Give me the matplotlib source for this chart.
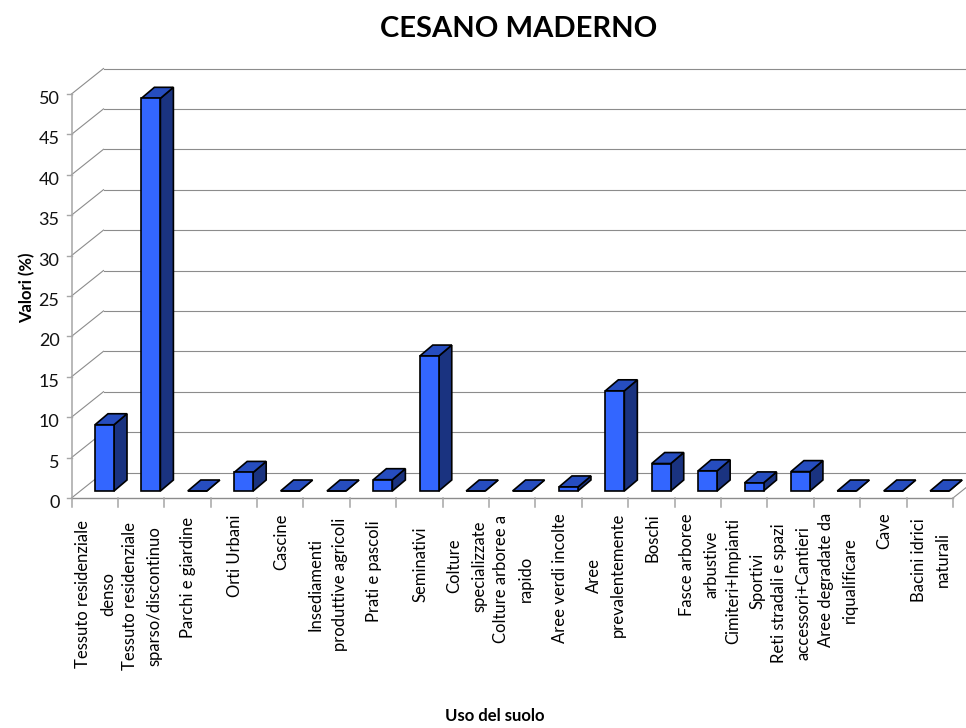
import matplotlib
matplotlib.use('Agg')
import matplotlib.pyplot as plt
from matplotlib.patches import Polygon

categories = ['Tessuto residenziale\ndenso', 'Tessuto residenziale\nsparso/discontinuo',
              'Parchi e giardine', 'Orti Urbani', 'Cascine',
              'Insediamenti\nproduttive agricoli', 'Prati e pascoli', 'Seminativi',
              'Colture\nspecializzate', 'Colture arboree a\nrapido', 'Aree verdi incolte',
              'Aree\nprevalentemente', 'Boschi', 'Fasce arboree\narbustive',
              'Cimiteri+Impianti\nSportivi', 'Reti stradali e spazi\naccessori+Cantieri',
              'Aree degradate da\nriqualificare', 'Cave', 'Bacini idrici\nnaturali']
values = [8.2, 48.6, 0, 2.3, 0, 0, 1.4, 16.7, 0, 0, 0.5, 12.4, 3.4, 2.5, 1.0, 2.4, 0, 0, 0]
yticks = list(range(0, 55, 5))
# how far below the axis each label starts, in pixels
label_gap = [22, 24, 19, 17, 16, 20, 22, 29, 22, 17, 15, 15, 15, 15, 20, 25, 15, 14, 20]

W, H = 966, 728
plt.rcParams['font.family'] = ['Lato', 'DejaVu Sans']

fig = plt.figure(figsize=(W / 100, H / 100), dpi=100)
ax = fig.add_axes([71.5 / W, (H - 498) / H, 881.5 / W, 404 / H])
n = len(categories)
ax.set_xlim(0, n)
ax.set_ylim(0, 50)
ax.axis('off')

px = n / 881.5      # one pixel in x units
py = 50 / 404.0     # one pixel in y units
wall_dx, wall_dy = 32 * px, 25.5 * py
bar_dx, bar_dy = 13 * px, 11 * py
bar_w = 19 * px
bar_off = 23.5 * px
base = 7 * py
grid = '#8c8c8c'
axis_col = '#a6a6a6'

# walls
for v in yticks:
    ax.plot([wall_dx, n + wall_dx], [v + wall_dy, v + wall_dy], color=grid, lw=0.8, zorder=1, clip_on=False)
    ax.plot([0, wall_dx], [v, v + wall_dy], color=grid, lw=0.8, zorder=1, clip_on=False)
    ax.plot([-5 * px, 0], [v, v], color=axis_col, lw=1.0, zorder=1, clip_on=False)
    ax.text(-12 * px, v - 5 * py, str(v), ha='right', va='center', fontsize=13, color='#111111')
ax.plot([0, 0], [0, 50], color=axis_col, lw=1.1, zorder=1, clip_on=False)
ax.plot([0, n], [0, 0], color=grid, lw=1.0, zorder=1, clip_on=False)
ax.plot([n, n + wall_dx], [0, wall_dy], color=grid, lw=0.8, zorder=1, clip_on=False)
for i in range(n + 1):
    ax.plot([i, i], [0, -9 * py], color=axis_col, lw=1.1, zorder=1, clip_on=False)

# bars
for i, v in enumerate(values):
    x0 = i + bar_off
    x1 = x0 + bar_w
    y0 = base
    y1 = base + v
    ax.add_patch(Polygon([(x1, y0), (x1 + bar_dx, y0 + bar_dy), (x1 + bar_dx, y1 + bar_dy), (x1, y1)],
                         fc='#1a3380', ec='black', lw=1.2, zorder=3, clip_on=False))
    ax.add_patch(Polygon([(x0, y1), (x1, y1), (x1 + bar_dx, y1 + bar_dy), (x0 + bar_dx, y1 + bar_dy)],
                         fc='#264dbf', ec='black', lw=1.2, zorder=3, clip_on=False))
    ax.bar(x0, v, bar_w, bottom=y0, align='edge', color='#3366ff', edgecolor='black', lw=1.2, zorder=4, clip_on=False)

# category labels
for i, lab in enumerate(categories):
    ax.annotate(lab, xy=(i + 0.5, 0), xytext=(1, -label_gap[i]), textcoords='offset pixels',
                rotation=90, ha='center', va='top', multialignment='center',
                fontsize=12, linespacing=1.65, color='black')

fig.text(519 / W, 1 - 29 / H, 'CESANO MADERNO', ha='center', va='center', fontsize=21, fontweight='bold')
fig.text(27.5 / W, 1 - 288 / H, 'Valori (%)', rotation=90, ha='center', va='center', fontsize=12, fontweight='bold')
fig.text(495 / W, 1 - 716 / H, 'Uso del suolo', ha='center', va='center', fontsize=12, fontweight='bold')

fig.savefig('out.png', dpi=100)
